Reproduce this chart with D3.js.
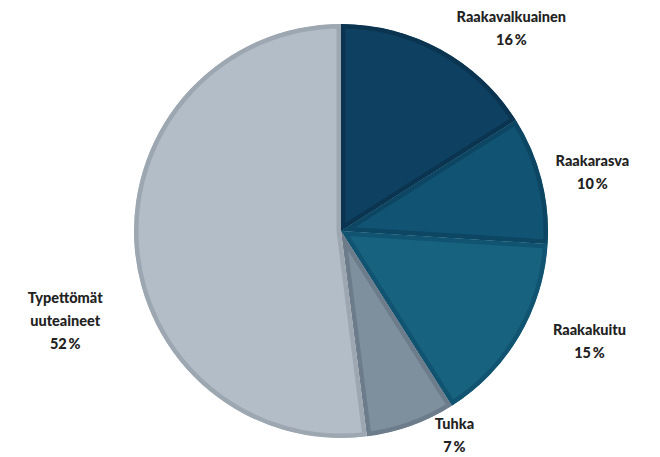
<!DOCTYPE html>
<html>
<head>
<meta charset="utf-8">
<script src="https://cdn.jsdelivr.net/npm/d3@7"></script>
<style>
  body { margin: 0; background: #fff; }
  svg { display: block; }
</style>
</head>
<body>
<div id="chart"></div>
<script>
// values, clockwise from 12 o'clock
const categories = ["Raakavalkuainen", "Raakarasva", "Raakakuitu", "Tuhka", "Typettömät uuteaineet"];
const shares = [16, 10, 15, 7, 52];
const labelLines = [["Raakavalkuainen"], ["Raakarasva"], ["Raakakuitu"], ["Tuhka"], ["Typettömät", "uuteaineet"]];

const fills = ["#0e4161", "#115372", "#17627f", "#7e8f9e", "#b3bdc7"];
const borders = ["#0a3450", "#0d4663", "#115471", "#6c7c8b", "#9da7b1"];

const width = 660, height = 457;
const cx = 341, cy = 231, r = 207;

const data = categories.map((c, i) => ({ name: c, value: shares[i], lines: labelLines[i], i }));

const svg = d3.select("#chart").append("svg")
  .attr("width", width)
  .attr("height", height);

const pie = d3.pie().sort(null).value(d => d.value);
const arc = d3.arc().innerRadius(0).outerRadius(r);
const arcs = pie(data);

const g = svg.append("g").attr("transform", `translate(${cx},${cy})`);
const defs = svg.append("defs");

arcs.forEach((a, i) => {
  defs.append("clipPath").attr("id", "clip" + i)
    .append("path").attr("d", arc(a));
});

g.selectAll("path.slice")
  .data(arcs)
  .enter()
  .append("path")
  .attr("class", "slice")
  .attr("d", arc)
  .attr("fill", (d, i) => fills[i])
  .attr("stroke", (d, i) => borders[i])
  .attr("stroke-width", 9)
  .attr("stroke-linejoin", "round")
  .attr("clip-path", (d, i) => `url(#clip${i})`);

// label placement: angle (clockwise from top) + distance from the centre, tuned by eye
const labelPos = [
  { ang: 40, dist: 265 },
  { ang: 77, dist: 258 },
  { ang: 114, dist: 272 },
  { ang: 151, dist: 234 },
  { ang: 252, dist: 290 }
];
const lineH = 23;

arcs.forEach((a, i) => {
  const p = labelPos[i];
  const rad = p.ang * Math.PI / 180;
  const x = Math.sin(rad) * p.dist;
  const y = -Math.cos(rad) * p.dist;
  const lines = a.data.lines.concat([a.data.value + "\u2009%"]);
  const t = g.append("text")
    .attr("text-anchor", "middle")
    .attr("font-family", "Lato, 'Open Sans', sans-serif")
    .attr("font-weight", 900)
    .attr("font-size", 14.5)
    .attr("fill", "#222");
  const y0 = y - (lines.length - 1) * lineH / 2 + 5;
  lines.forEach((ln, k) => {
    t.append("tspan").attr("x", x).attr("y", y0 + k * lineH).text(ln);
  });
});
</script>
</body>
</html>
